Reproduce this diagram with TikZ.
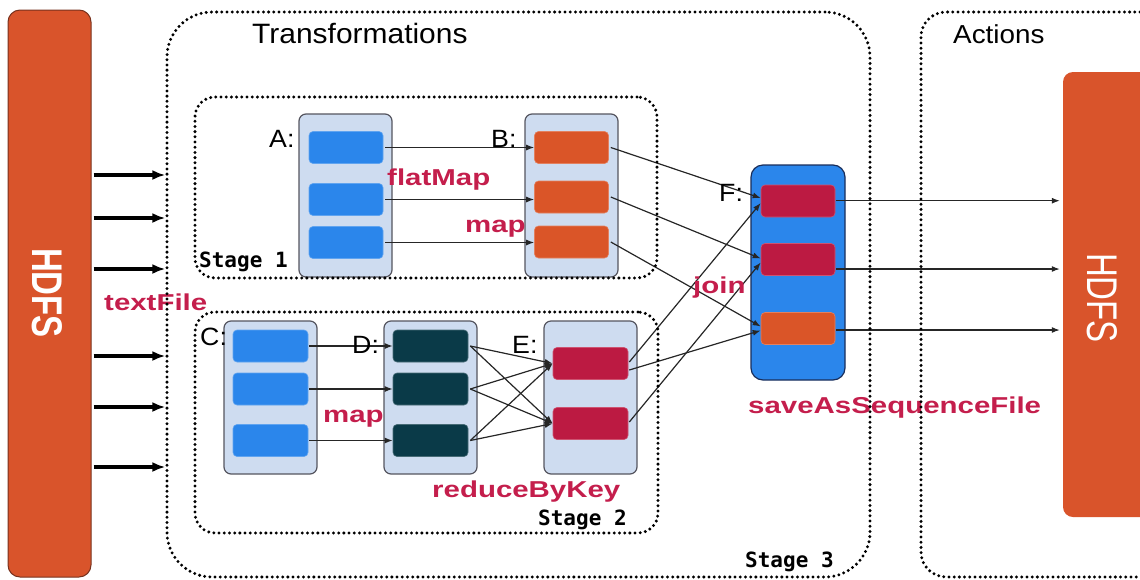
\documentclass[tikz,border=0pt]{standalone}
\usepackage{graphicx}
\usepackage{fontspec}
\setmainfont{Liberation Sans}
\newfontfamily\regf[FakeStretch=1.07]{Liberation Sans}
\newfontfamily\lblf[FakeStretch=1.28]{Liberation Sans}
\newfontfamily\monof{DejaVu Sans Mono}
\usetikzlibrary{arrows.meta}
\definecolor{hdfsc}{RGB}{217,84,43}
\definecolor{hdfsb}{RGB}{120,50,30}
\definecolor{contF}{RGB}{206,220,240}
\definecolor{contB}{RGB}{85,85,95}
\definecolor{cblue}{RGB}{43,134,235}
\definecolor{corange}{RGB}{218,85,40}
\definecolor{ccrim}{RGB}{188,26,66}
\definecolor{cteal}{RGB}{10,58,72}
\definecolor{lblc}{RGB}{196,30,76}
\definecolor{fborder}{RGB}{25,45,90}
\pgfdeclarelayer{front}
\pgfsetlayers{main,front}
\begin{document}
\begin{tikzpicture}[x=1pt,y=-1pt,
  dotbox/.style={draw=black, line width=3.3pt, dash pattern=on 0pt off 5.2pt, line cap=round, inner sep=0pt},
  cont/.style={draw=contB, fill=contF, line width=1.2pt, rounded corners=7pt, minimum width=93pt, inner sep=0pt},
  cell/.style={draw=#1!75!white, fill=#1, line width=0.6pt, rounded corners=4pt, minimum width=74pt, minimum height=32pt, inner sep=0pt},
  arr/.style={-{Latex[length=8pt,width=6pt]}, line width=1.2pt, draw=black!85},
  bigarr/.style={-{Latex[length=13pt,width=10pt]}, line width=3.5pt, shorten <=2pt},
  lbl/.style={text=lblc, font=\lblf\bfseries\fontsize{23}{25}\selectfont, inner sep=0pt, anchor=base west},
  ltr/.style={font=\regf\fontsize{25}{27}\selectfont, inner sep=0pt, anchor=base west},
  stg/.style={font=\monof\bfseries\fontsize{21}{23}\selectfont, inner sep=0pt, anchor=base west},
  ttl/.style={font=\regf\fontsize{28}{30}\selectfont, inner sep=0pt, anchor=base west},
  hdfstxt/.style={rotate=-90, text=white, inner sep=0pt}
]
\useasboundingbox (0,0) rectangle (1140,579);

% left HDFS
\node[draw=hdfsb, fill=hdfsc, line width=1pt, rounded corners=12pt, minimum width=83pt, minimum height=567pt, inner sep=0pt] (hdfsL) at (49.5,293.5) {};
\node[hdfstxt, font=\bfseries\fontsize{33}{35}\selectfont] (hdfsLt) at (47.5,293) {\scalebox{1}[1.3]{HDFS}};

% right HDFS
\fill[hdfsc, rounded corners=10pt] (1140,72) -- (1063,72) -- (1063,517) -- (1140,517);
\node[minimum width=77pt, minimum height=445pt, inner sep=0pt] (hdfsR) at (1101.5,294.5) {};
\node[hdfstxt, font=\fontsize{33}{35}\selectfont] (hdfsRt) at (1102,298) {\scalebox{1}[1.3]{HDFS}};

% dotted boxes (on front layer)
\begin{pgfonlayer}{front}
\node[dotbox, rounded corners=45pt, minimum width=703pt, minimum height=565pt] (trans) at (518.5,294.5) {};
\node[dotbox, rounded corners=20pt, minimum width=462pt, minimum height=181pt] (stage1) at (426,187.5) {};
\node[dotbox, rounded corners=20pt, minimum width=463pt, minimum height=221pt] (stage2) at (426.5,422.5) {};
\draw[dotbox, rounded corners=25pt] (1140,12) -- (921,12) -- (921,577) -- (1140,577);
\end{pgfonlayer}

% containers
\node[cont, minimum height=163pt] (Abox) at (345.5,195.5) {};
\node[cont, minimum height=163pt] (Bbox) at (571.5,195.5) {};
\node[cont, minimum height=153pt] (Cbox) at (270.5,397.5) {};
\node[cont, minimum height=153pt] (Dbox) at (430.5,397.5) {};
\node[cont, minimum height=153pt] (Ebox) at (590.5,397.5) {};
\node[cont, fill=cblue, draw=fborder, rounded corners=12pt, minimum width=94pt, minimum height=215pt] (Fbox) at (798,272.5) {};

% cells
\node[cell=cblue] (A1) at (346,147.5) {};
\node[cell=cblue] (A2) at (346,199.5) {};
\node[cell=cblue] (A3) at (346,242.5) {};
\node[cell=corange] (B1) at (571.5,147.5) {};
\node[cell=corange] (B2) at (571.5,197) {};
\node[cell=corange] (B3) at (571.5,242) {};
\node[cell=cblue, minimum width=75pt] (C1) at (270.5,346) {};
\node[cell=cblue, minimum width=75pt] (C2) at (270.5,389) {};
\node[cell=cblue, minimum width=75pt] (C3) at (270.5,440.5) {};
\node[cell=cteal, minimum width=75pt] (D1) at (430.5,346) {};
\node[cell=cteal, minimum width=75pt] (D2) at (430.5,389) {};
\node[cell=cteal, minimum width=75pt] (D3) at (430.5,440.5) {};
\node[cell=ccrim, minimum width=75pt] (E1) at (590.5,363.5) {};
\node[cell=ccrim, minimum width=75pt] (E2) at (590.5,423.5) {};
\node[cell=ccrim] (F1) at (798,201) {};
\node[cell=ccrim] (F2) at (798,259.5) {};
\node[cell=corange] (F3) at (798,328.5) {};

% HDFS -> transformations
\foreach \i/\yy in {1/175,2/218,3/269,4/356,5/407,6/467}{
  \coordinate (lk\i) at (0,\yy);
  \draw[bigarr] (hdfsL.east |- lk\i) -- (trans.west |- lk\i);
}

% A -> B
\draw[arr] ([xshift=2pt]A1.east) -- (A1.east -| B1.west);
\draw[arr] ([xshift=2pt]A2.east) -- (A2.east -| B2.west);
\draw[arr] ([xshift=2pt]A3.east) -- (A3.east -| B3.west);

% C -> D
\draw[arr] ([xshift=1pt]C1.east) -- (C1.east -| D1.west);
\draw[arr] ([xshift=1pt]C2.east) -- (C2.east -| D2.west);
\draw[arr] ([xshift=1pt]C3.east) -- (C3.east -| D3.west);

% D -> E (all to all)
\foreach \i in {1,2,3}{
  \foreach \j in {1,2}{
    \draw[arr] ([xshift=2pt]D\i.east) -- (E\j.west);
  }
}

% B, E -> F
\draw[arr] ([xshift=2pt]B1.east) -- ([yshift=3pt]F1.west);
\draw[arr] ([xshift=2pt]B2.east) -- ([yshift=1pt]F2.west);
\draw[arr] ([xshift=2pt]B3.east) -- ([yshift=2pt]F3.west);
\draw[arr] ([xshift=1pt,yshift=1.5pt]E1.east) -- ([yshift=-2pt]F1.west);
\draw[arr] ([xshift=1pt,yshift=-6.5pt]E1.east) -- ([yshift=-2pt]F3.west);
\draw[arr] ([xshift=1pt,yshift=1.5pt]E2.east) -- ([yshift=-3pt]F2.west);

% F -> HDFS
\coordinate (f1o) at ([xshift=1pt,yshift=0.3pt]F1.east);
\coordinate (f2o) at ([xshift=1pt,yshift=-9.5pt]F2.east);
\coordinate (f3o) at ([xshift=1pt,yshift=-1.5pt]F3.east);
\draw[arr] (f1o) -- ([xshift=-3pt]f1o -| hdfsR.west);
\draw[arr] (f2o) -- ([xshift=-3pt]f2o -| hdfsR.west);
\draw[arr] (f3o) -- ([xshift=-3pt]f3o -| hdfsR.west);

% titles
\node[ttl] (tTrans) at (252,43) {Transformations};
\node[ttl, font=\regf\fontsize{26}{28}\selectfont] (tAct) at (953,43) {Actions};

% letter labels
\node[ltr] (lA) at (269,147) {A:};
\node[ltr] (lB) at (491,147) {B:};
\node[ltr] (lC) at (200,345) {C:};
\node[ltr] (lD) at (352,353) {D:};
\node[ltr] (lE) at (512,353) {E:};
\node[ltr] (lF) at (719,201) {F:};

% operation labels
\node[lbl] (oFlat) at (387,185) {flatMap};
\node[lbl] (oMap1) at (465,232) {map};
\node[lbl] (oText) at (104,310) {textFile};
\node[lbl] (oJoin) at (693,293) {join};
\node[lbl] (oMap2) at (323,422) {map};
\node[lbl] (oRed) at (432,497) {reduceByKey};
\node[lbl] (oSave) at (748,413) {saveAsSequenceFile};

% stage labels
\node[stg] (s1) at (199,267) {Stage 1};
\node[stg] (s2) at (538,525) {Stage 2};
\node[stg] (s3) at (745,567) {Stage 3};
\end{tikzpicture}
\end{document}
